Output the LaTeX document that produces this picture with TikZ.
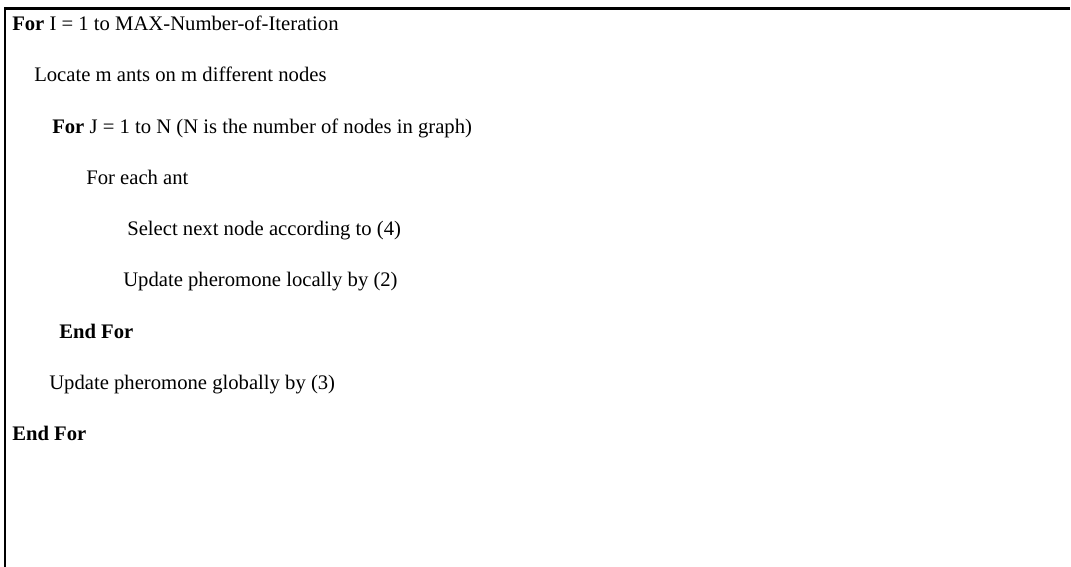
\documentclass[tikz,border=0pt]{standalone}
\usepackage{fontspec}
\setmainfont{Liberation Serif}
\usepackage{tikz}
\tikzset{every node/.style={anchor=base west,inner sep=0pt,font=\fontsize{14.7}{17}\selectfont}}

\begin{document}
\begin{tikzpicture}
\useasboundingbox (0,0) rectangle (26.775,14.175);
\draw[line width=1.7pt] (26.75,13.96) -- (0.13,13.96) -- (0.13,0);
\node[name=fori] at (0.30,13.41) {\textbf{For} I = 1 to MAX-Number-of-Iteration};
\node[name=locate] at (0.85,12.13) {Locate m ants on m different nodes};
\node[name=forj] at (1.30,10.84) {\textbf{For} J = 1 to N (N is the number of nodes in graph)};
\node[name=each] at (2.15,9.56) {For each ant};
\node[name=select] at (3.175,8.28) {Select next node according to (4)};
\node[name=local] at (3.075,7.00) {Update pheromone locally by (2)};
\node[name=endj] at (1.475,5.71) {\textbf{End For}};
\node[name=global] at (1.225,4.43) {Update pheromone globally by (3)};
\node[name=endi] at (0.30,3.15) {\textbf{End For}};
\end{tikzpicture}
\end{document}
